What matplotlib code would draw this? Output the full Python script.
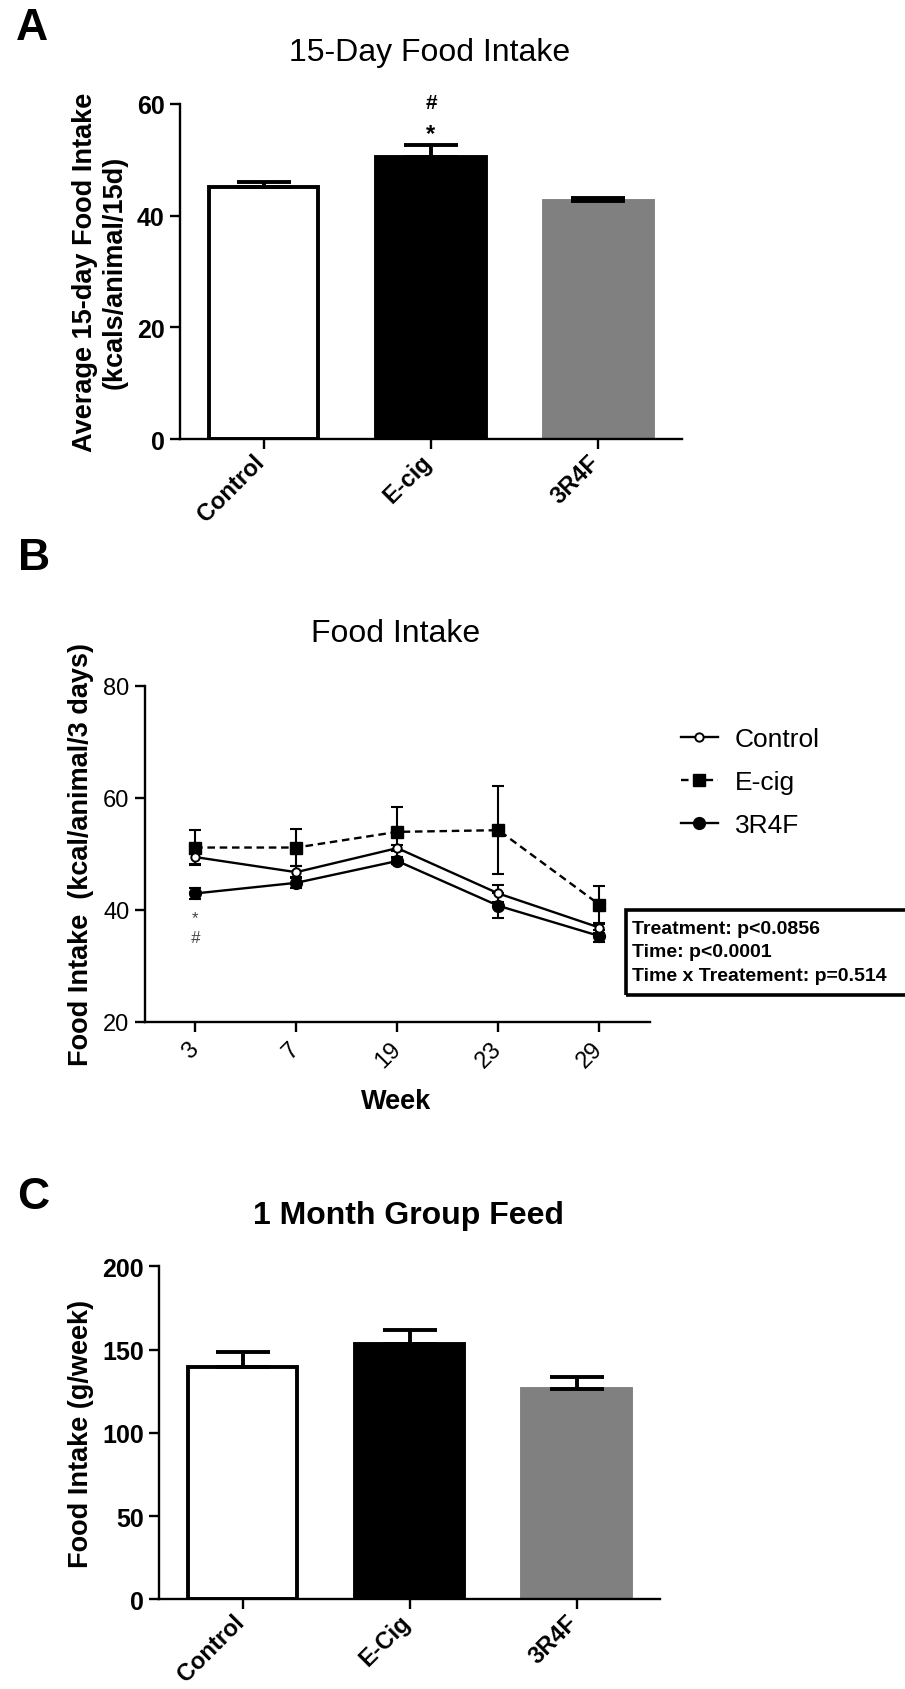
import matplotlib
matplotlib.use('Agg')
import matplotlib.pyplot as plt
from matplotlib.patches import Rectangle
from matplotlib.transforms import ScaledTranslation
import numpy as np

plt.rcParams['font.family'] = ['Liberation Sans', 'DejaVu Sans']

# ---------------- data ----------------
groups_a = ['Control', 'E-cig', '3R4F']
intake15_mean = [45.2, 50.5, 42.6]
intake15_sem = [0.9, 2.2, 0.65]

weeks = ['3', '7', '19', '23', '29']
ctrl_mean = [49.4, 46.7, 51.0, 42.9, 36.8]
ctrl_sem = [1.3, 1.1, 0.6, 1.5, 0.9]
ecig_mean = [51.1, 51.1, 53.9, 54.2, 40.9]
ecig_sem = [3.1, 3.3, 4.5, 7.9, 3.4]
r4f_mean = [42.9, 44.8, 48.7, 40.7, 35.3]
r4f_sem = [0.9, 1.0, 0.6, 2.2, 1.0]
stats_lines = ['Treatment: p<0.0856', 'Time: p<0.0001', 'Time x Treatement: p=0.514']

groups_c = ['Control', 'E-Cig', '3R4F']
feed_mean = [139.4, 153.4, 126.6]
feed_sem = [9.1, 8.6, 7.2]

bar_colors = ['white', 'black', '#808080']
bar_edges = ['black', 'black', '#808080']

# ---------------- figure ----------------
W, H = 905, 1690
fig = plt.figure(figsize=(W / 100, H / 100), dpi=100)


def ax_px(left, top, right, bottom):
    return fig.add_axes([left / W, 1 - bottom / H, (right - left) / W, (bottom - top) / H])


def style_axes(ax, bold=True, labelsize=18):
    for s in ['top', 'right']:
        ax.spines[s].set_visible(False)
    for s in ['left', 'bottom']:
        ax.spines[s].set_linewidth(1.7)
    ax.tick_params(width=1.7, length=7, labelsize=labelsize, pad=4)
    if bold:
        for lbl in ax.get_xticklabels() + ax.get_yticklabels():
            lbl.set_fontweight('bold')


def bar_panel(ax, groups, means, sems, ylim, yticks, ylabel, title, title_bold, label_x):
    x = np.arange(len(groups))
    ax.bar(x, means, width=0.655, color=bar_colors, edgecolor=bar_edges, linewidth=2.8, zorder=2)
    ax.errorbar(x, means, yerr=[np.zeros(len(x)), sems], fmt='none', ecolor='black',
                elinewidth=2.8, capsize=19.5, capthick=2.8, zorder=3)
    ax.set_xlim(-0.5, 2.5)
    ax.set_ylim(*ylim)
    ax.set_yticks(yticks)
    ax.set_xticks(x)
    ax.set_xticklabels(groups, rotation=45, ha='right', va='baseline', rotation_mode='anchor')
    style_axes(ax, bold=True)
    ax.tick_params(axis='x', pad=10, labelsize=17)
    for lbl in ax.get_xticklabels():
        lbl.set_transform(lbl.get_transform() + ScaledTranslation(2 / 100, 0, fig.dpi_scale_trans))
    ax.set_ylabel(ylabel, fontsize=19.5, fontweight='bold', va='center', linespacing=1.15)
    ax.yaxis.set_label_coords(label_x, 0.5)
    ax.text(0.497, 1.155, title, transform=ax.transAxes, ha='center', va='center',
            fontsize=23, fontweight='bold' if title_bold else 'normal')


# ---------------- Panel A ----------------
axA = ax_px(180, 105, 682, 440)
bar_panel(axA, groups_a, intake15_mean, intake15_sem, (0, 60), [0, 20, 40, 60],
          'Average 15-day Food Intake\n(kcals/animal/15d)', '15-Day Food Intake', False, -0.16)
axA.text(1, 60.3, '#', ha='center', va='center', fontsize=15, fontweight='bold', clip_on=False)
axA.text(1, 54.8, '*', ha='center', va='center', fontsize=17, fontweight='bold', clip_on=False)

# ---------------- Panel B ----------------
axB = ax_px(144.6, 686.7, 650, 1022.7)
xb = np.arange(len(weeks))
eb_kw = dict(fmt='none', ecolor='black', elinewidth=1.5, capsize=4.3, capthick=1.5)
axB.errorbar(xb, ecig_mean, yerr=ecig_sem, zorder=2, **eb_kw)
axB.errorbar(xb, r4f_mean, yerr=r4f_sem, zorder=2, **eb_kw)
axB.errorbar(xb, ctrl_mean, yerr=ctrl_sem, zorder=2, **eb_kw)
h_e, = axB.plot(xb, ecig_mean, ls=(0, (3.2, 2.0)), color='black', lw=1.7, marker='s', ms=9,
                zorder=3, label='E-cig')
h_r, = axB.plot(xb, r4f_mean, ls='-', color='black', lw=1.7, marker='o', ms=8.5,
                zorder=4, label='3R4F')
h_c, = axB.plot(xb, ctrl_mean, ls='-', color='black', lw=1.7, marker='o', ms=6,
                mfc='white', mec='black', mew=1.4, zorder=5, label='Control')
axB.set_xlim(-0.5, 4.5)
axB.set_ylim(20, 80)
axB.set_yticks([20, 40, 60, 80])
axB.set_xticks(xb)
axB.set_xticklabels(weeks, rotation=45, ha='right', va='center', rotation_mode='anchor')
style_axes(axB, bold=False, labelsize=17)
axB.tick_params(axis='x', pad=10)
axB.set_ylabel('Food Intake  (kcal/animal/3 days)', fontsize=19.5, fontweight='bold', va='center')
axB.yaxis.set_label_coords(-0.126, 0.5)
axB.set_xlabel('Week', fontsize=19.5, fontweight='bold', va='center')
axB.xaxis.set_label_coords(0.497, -0.235)
axB.text(0.497, 1.157, 'Food Intake', transform=axB.transAxes, ha='center', va='center', fontsize=23)
axB.text(0, 38.6, '*', ha='center', va='center', fontsize=12, color='#444444')
axB.text(0, 35.1, '#', ha='center', va='center', fontsize=12, color='#444444', style='italic')

fig.legend([h_c, h_e, h_r], ['Control', 'E-cig', '3R4F'], loc='upper left',
           bbox_to_anchor=(681 / W, 1 - 728 / H), frameon=False, fontsize=19,
           handlelength=1.4, handletextpad=0.65, labelspacing=0.72, borderaxespad=0, borderpad=0)

box = Rectangle((626 / W, 1 - 996 / H), (912 - 626) / W, (996 - 910.7) / H,
                transform=fig.transFigure, fill=False, lw=2.6, ec='black')
fig.add_artist(box)
for i, line in enumerate(stats_lines):
    fig.text(632 / W, 1 - (929.3 + i * 23.4) / H, line, ha='left', va='center',
             fontsize=14, fontweight='bold')

# ---------------- Panel C ----------------
axC = ax_px(159.4, 1267.4, 660, 1600.4)
bar_panel(axC, groups_c, feed_mean, feed_sem, (0, 200), [0, 50, 100, 150, 200],
          'Food Intake (g/week)', '1 Month Group Feed', True, -0.157)

# ---------------- panel letters ----------------
for letter, (px, py) in zip(['A', 'B', 'C'], [(32, 28), (34, 559), (33, 1198)]):
    fig.text(px / W, 1 - py / H, letter, ha='center', va='center', fontsize=32, fontweight='bold')

fig.savefig('out.png', dpi=100)
